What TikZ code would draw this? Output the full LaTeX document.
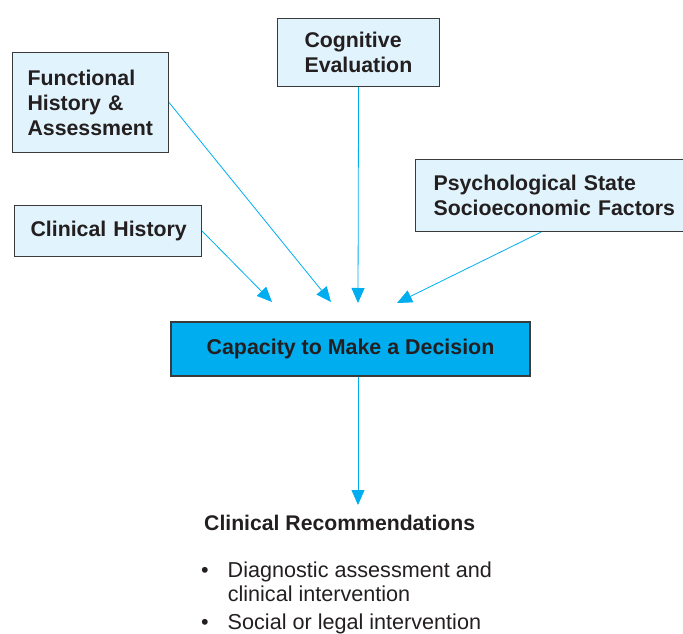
\documentclass[tikz,border=0pt]{standalone}
\usepackage{fontspec}
\setmainfont{Liberation Sans}
\usetikzlibrary{positioning,arrows.meta}
\definecolor{boxfill}{HTML}{E1F3FC}
\definecolor{capblue}{HTML}{00AEEF}
\definecolor{edgegray}{HTML}{3A3A3A}
\definecolor{inkblack}{HTML}{231F20}

\begin{document}
\begin{tikzpicture}[x=1pt,y=-1pt,
  factor/.style={draw=edgegray,line width=1.1pt,fill=boxfill,anchor=north west,
    align=left,font=\fontsize{21.3}{25}\selectfont\bfseries,text=inkblack,inner ysep=0pt},
  feed/.style={draw=capblue,line width=0.8pt,-{Triangle[length=15pt,width=13pt]}}]
            \useasboundingbox (0,0) rectangle (683,634);
            \node[factor,minimum width=156,minimum height=100,inner xsep=15,text width=126]
              (funchist) at (12,52) {Functional\\History \&\\\mbox{Assessment}};
            \node[factor,minimum width=162,minimum height=68,inner xsep=27,text width=108]
              (cogeval) at (277,18) {Cognitive\\\mbox{Evaluation}};
            \node[factor,minimum width=271,minimum height=72,inner xsep=18,text width=235]
              (psych) at (415,159) {\mbox{Psychological State}\\\mbox{Socioeconomic Factors}};
            \node[factor,minimum width=187,minimum height=51,inner xsep=16,text width=155]
              (clinhist) at (14,205) {\mbox{Clinical History}};
            \node[draw=edgegray,line width=1.1pt,fill=capblue,text=inkblack,
              minimum width=359,minimum height=54,font=\fontsize{21.4}{25}\selectfont\bfseries]
              (capacity) at (350.5,349) {Capacity to Make a Decision};
            \coordinate (tipH) at (272,302);
            \coordinate (tipF) at (331,302);
            \coordinate (tipC) at (358,303);
            \coordinate (tipP) at (397,303);
            \coordinate (tipR) at (358,505);
            \draw[feed] (clinhist.east) -- (tipH);
            \draw[feed] (funchist.east) -- (tipF);
            \draw[feed] (cogeval.south) -- (tipC);
            \draw[feed] ([xshift=-10pt]psych.south) -- (tipP);
            \draw[feed] (capacity.south -| tipR) -- (tipR);
            \node[anchor=base west,inner sep=0pt,text=inkblack,
              font=\fontsize{21.2}{24}\selectfont\bfseries]
              (rechead) at (204,530) {Clinical Recommendations};
            \node[anchor=base west,inner sep=0pt,text=inkblack,
              font=\fontsize{21.6}{24}\selectfont]
              (recitems) at (201,577)
              {\begin{tabular}[t]{@{}l@{\hspace{19pt}}l@{}}
               \textbullet & Diagnostic assessment and\\
                           & clinical intervention\\[4pt]
               \textbullet & Social or legal intervention
               \end{tabular}};
        \end{tikzpicture}
\end{document}
